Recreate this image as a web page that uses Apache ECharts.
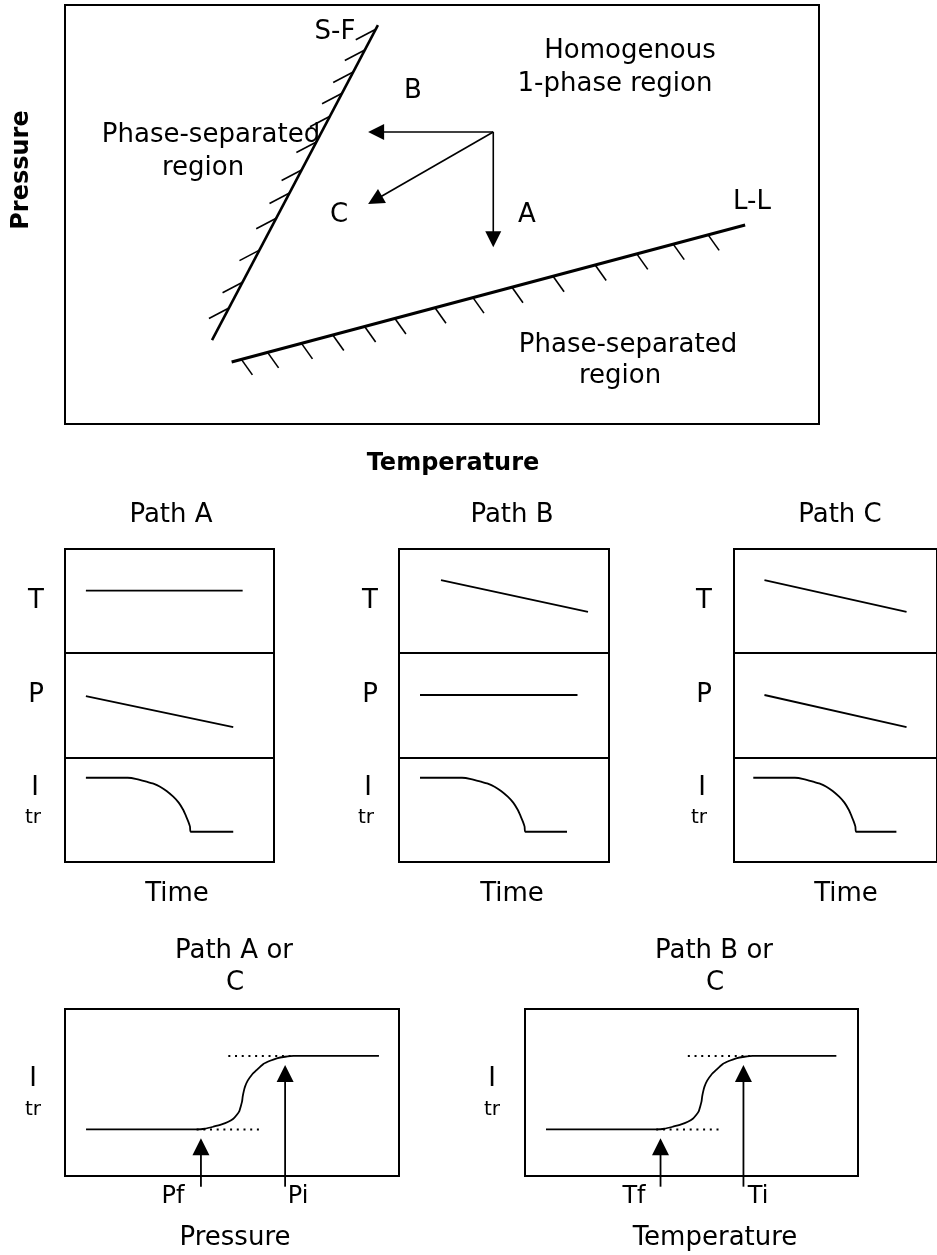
<!DOCTYPE html>
<html>
<head>
<meta charset="utf-8">
<title>Phase diagram and transmitted intensity paths</title>
<script src="https://cdn.jsdelivr.net/npm/echarts@6/dist/echarts.min.js"></script>
<style>
  html, body { margin: 0; padding: 0; background: #fff; }
  #chart { width: 937px; height: 1255px; }
</style>
</head>
<body>
<div id="chart"></div>
<script>
// ---- Phase diagram (temperature vs pressure, both 0-100 schematic units) ----
const sfBoundary = [[19.5, 20.0], [41.5, 95.2]];   // solid-fluid boundary
const llBoundary = [[22.1, 14.8], [90.2, 47.5]];   // liquid-liquid boundary
// hatch positions along each boundary (fraction from first to second end)
const sfHatch = [0.102, 0.184, 0.286, 0.387, 0.467, 0.540, 0.629, 0.711, 0.784, 0.851, 0.921, 0.987];
const llHatch = [0.019, 0.070, 0.136, 0.197, 0.259, 0.318, 0.396, 0.470, 0.546, 0.626, 0.708, 0.789, 0.860, 0.928];
// quench paths from the common start state
const pathStart = [56.8, 69.7];
const pathEndA = [56.8, 42.2];
const pathEndB = [40.2, 69.7];
const pathEndC = [40.2, 52.5];

// ---- Time traces for each path (time 0-100, value 0-100) ----
const tempA = [[10, 60], [85, 60]];
const presA = [[10, 59], [80.5, 29.5]];
const itrA = [[10, 81], [30, 81], [34.3, 79.8], [39.1, 77.2], [42.3, 75.3], [45.5, 72.4], [48.6, 68.3], [51.8, 62.8],
  [54.4, 57.1], [56.6, 50], [57.9, 44.2], [59, 38.8], [59.8, 34], [60.1, 29.1], [80.5, 29.1]];
const tempB = [[20, 70], [90, 39.5]];
const presB = [[10, 60], [85, 60]];
const itrB = [[10, 81], [30, 81], [34.3, 79.8], [39.1, 77.2], [42.3, 75.3], [45.5, 72.4], [48.6, 68.3], [51.8, 62.8],
  [54.4, 57.1], [56.6, 50], [57.9, 44.2], [59, 38.8], [59.8, 34], [60.1, 29.1], [80, 29.1]];
const tempC = [[15, 70], [85, 39.5]];
const presC = [[15, 60], [85, 29.5]];
const itrC = [[9.5, 81], [30, 81], [34.3, 79.8], [39.1, 77.2], [42.3, 75.3], [45.5, 72.4], [48.6, 68.3], [51.8, 62.8],
  [54.4, 57.1], [56.6, 50], [57.9, 44.2], [59, 38.8], [59.8, 34], [60.1, 29.1], [80, 29.1]];

// ---- Transmitted intensity vs pressure / temperature ----
const itrVsPressure = [[6.3, 27.9], [39.4, 27.9], [41.9, 28.3], [44.4, 29.5], [46.9, 30.9], [48.9, 32.5], [50.4, 34.3],
  [51.4, 36.5], [52.2, 38.9], [52.6, 41.5], [53.0, 44.5], [53.2, 47.5], [53.5, 50.5], [53.9, 53.5], [54.7, 57.1],
  [55.9, 60.5], [57.4, 63.5], [59.4, 67.1], [61.4, 69.0], [63.4, 70.5], [65.9, 71.4], [68.4, 71.9], [94, 71.9]];
const itrVsTemperature = [[6.3, 27.9], [39.4, 27.9], [41.9, 28.3], [44.4, 29.5], [46.9, 30.9], [48.9, 32.5], [50.4, 34.3],
  [51.4, 36.5], [52.2, 38.9], [52.6, 41.5], [53.0, 44.5], [53.2, 47.5], [53.5, 50.5], [53.9, 53.5], [54.7, 57.1],
  [55.9, 60.5], [57.4, 63.5], [59.4, 67.1], [61.4, 69.0], [63.4, 70.5], [65.9, 71.4], [68.4, 71.9], [93.5, 71.9]];
const upperGuide = [[48.9, 71.9], [68.4, 71.9]];
const lowerGuide = [[39.4, 27.9], [58.9, 27.9]];
const pressureMarks = { final: 40.7, initial: 65.9 };     // Pf, Pi
const temperatureMarks = { final: 40.7, initial: 65.6 };  // Tf, Ti
const markBase = -6.4;
const markTipFinal = 22.6;
const markTipInitial = 66.5;

// ---------------------------------------------------------------------------
const FONT = 'DejaVu Sans';
const grids = [
  { left: 65, top: 5, width: 754, height: 419 },      // 0 phase diagram
  { left: 65, top: 549, width: 209, height: 104 },    // 1 path A: T
  { left: 65, top: 653, width: 209, height: 105 },    // 2 path A: P
  { left: 65, top: 758, width: 209, height: 104 },    // 3 path A: Itr
  { left: 399, top: 549, width: 210, height: 104 },   // 4 path B: T
  { left: 399, top: 653, width: 210, height: 105 },   // 5
  { left: 399, top: 758, width: 210, height: 104 },   // 6
  { left: 734, top: 549, width: 210, height: 104 },   // 7 path C: T
  { left: 734, top: 653, width: 210, height: 105 },   // 8
  { left: 734, top: 758, width: 210, height: 104 },   // 9
  { left: 65, top: 1009, width: 334, height: 167 },   // 10 Itr vs pressure
  { left: 525, top: 1009, width: 333, height: 167 }   // 11 Itr vs temperature
].map(g => Object.assign({ show: true, borderColor: '#000', borderWidth: 2, backgroundColor: 'transparent' }, g));

const xAxes = grids.map((g, i) => ({ gridIndex: i, type: 'value', min: 0, max: 100, show: false }));
const yAxes = grids.map((g, i) => ({ gridIndex: i, type: 'value', min: 0, max: 100, show: false }));

function curve(idx, data, width, extra) {
  return Object.assign({
    type: 'line', xAxisIndex: idx, yAxisIndex: idx, data: data,
    symbol: 'none', showSymbol: false, silent: true,
    lineStyle: { color: '#000', width: width || 1.8 }
  }, extra || {});
}

function arrowRenderer(headLen, headW, lw) {
  return function (params, api) {
    const a = api.coord([api.value(0), api.value(1)]);
    const b = api.coord([api.value(2), api.value(3)]);
    const dx = b[0] - a[0], dy = b[1] - a[1];
    const len = Math.hypot(dx, dy);
    const ux = dx / len, uy = dy / len;
    const bx = b[0] - ux * headLen, by = b[1] - uy * headLen;
    const nx = -uy * headW / 2, ny = ux * headW / 2;
    return {
      type: 'group',
      children: [
        { type: 'line', shape: { x1: a[0], y1: a[1], x2: bx + ux, y2: by + uy },
          style: { stroke: '#000', lineWidth: lw } },
        { type: 'polygon', shape: { points: [[b[0], b[1]], [bx + nx, by + ny], [bx - nx, by - ny]] },
          style: { fill: '#000' } }
      ]
    };
  };
}

function arrows(idx, list, headLen, headW, lw) {
  return {
    type: 'custom', xAxisIndex: idx, yAxisIndex: idx, silent: true, clip: false,
    data: list, renderItem: arrowRenderer(headLen, headW, lw)
  };
}

function hatchRenderer(boundary, off) {
  return function (params, api) {
    const t = api.value(0);
    const p0 = api.coord(boundary[0]);
    const p1 = api.coord(boundary[1]);
    const x = p0[0] + (p1[0] - p0[0]) * t;
    const y = p0[1] + (p1[1] - p0[1]) * t;
    return { type: 'line', shape: { x1: x, y1: y, x2: x + off[0], y2: y + off[1] },
      style: { stroke: '#000', lineWidth: 1.6 } };
  };
}

function hatches(boundary, list, off) {
  return {
    type: 'custom', xAxisIndex: 0, yAxisIndex: 0, silent: true, clip: false,
    data: list.map(t => [t, t]), renderItem: hatchRenderer(boundary, off)
  };
}

const dotted = { color: '#000', width: 2, type: [2, 4.7] };
const smoothCurve = { smooth: 0.2 };

const series = [
  // phase diagram
  curve(0, sfBoundary, 2.6),
  curve(0, llBoundary, 3),
  hatches(sfBoundary, sfHatch, [-20, 10.5]),
  hatches(llBoundary, llHatch, [11, 15.5]),
  arrows(0, [pathStart.concat(pathEndA), pathStart.concat(pathEndB), pathStart.concat(pathEndC)], 16, 16, 1.6),
  // path A
  curve(1, tempA), curve(2, presA), curve(3, itrA, 1.8, smoothCurve),
  // path B
  curve(4, tempB), curve(5, presB), curve(6, itrB, 1.8, smoothCurve),
  // path C
  curve(7, tempC), curve(8, presC), curve(9, itrC, 1.8, smoothCurve),
  // intensity vs pressure
  curve(10, itrVsPressure, 1.8, smoothCurve),
  curve(10, upperGuide, 2, { lineStyle: dotted }),
  curve(10, lowerGuide, 2, { lineStyle: dotted }),
  arrows(10, [[pressureMarks.final, markBase, pressureMarks.final, markTipFinal],
              [pressureMarks.initial, markBase, pressureMarks.initial, markTipInitial]], 17, 17, 1.8),
  // intensity vs temperature
  curve(11, itrVsTemperature, 1.8, smoothCurve),
  curve(11, upperGuide, 2, { lineStyle: dotted }),
  curve(11, lowerGuide, 2, { lineStyle: dotted }),
  arrows(11, [[temperatureMarks.final, markBase, temperatureMarks.final, markTipFinal],
              [temperatureMarks.initial, markBase, temperatureMarks.initial, markTipInitial]], 17, 17, 1.8)
];

// ---- text annotations ----
function txt(text, x, y, size, opts) {
  const el = {
    type: 'text', x: x, y: y, silent: true,
    style: { text: text, fill: '#000', font: (opts && opts.bold ? 'bold ' : '') + size + 'px "' + FONT + '"',
      align: 'center', verticalAlign: 'middle' }
  };
  if (opts && opts.rotation) el.rotation = opts.rotation;
  return el;
}

const S = 26;
const texts = [
  // phase diagram
  txt('S-F', 335, 32, S),
  txt('Homogenous', 630, 51, S),
  txt('1-phase region', 615, 84, S),
  txt('B', 413, 91, S),
  txt('Phase-separated', 211, 135, S),
  txt('region', 203, 168, S),
  txt('C', 339, 215, S),
  txt('A', 527, 215, S),
  txt('L-L', 752, 202, S),
  txt('Phase-separated', 628, 345, S),
  txt('region', 620, 376, S),
  txt('Pressure', 22, 170, 24, { bold: true, rotation: Math.PI / 2 }),
  txt('Temperature', 453, 464, 24, { bold: true }),
  // path columns
  txt('Path A', 171, 515, S), txt('Path B', 512, 515, S), txt('Path C', 840, 515, S),
  txt('T', 36, 601, S), txt('T', 370, 601, S), txt('T', 704, 601, S),
  txt('P', 36, 695, S), txt('P', 370, 695, S), txt('P', 704, 695, S),
  txt('I', 35, 788, S), txt('I', 368, 788, S), txt('I', 702, 788, S),
  txt('tr', 33, 818, 20), txt('tr', 366, 818, 20), txt('tr', 699, 818, 20),
  txt('Time', 177, 894, S), txt('Time', 512, 894, S), txt('Time', 846, 894, S),
  // intensity panels
  txt('Path A or', 234, 951, S), txt('C', 235, 983, S),
  txt('Path B or', 714, 951, S), txt('C', 715, 983, S),
  txt('I', 33, 1079, S), txt('tr', 33, 1110, 20),
  txt('I', 492, 1079, S), txt('tr', 492, 1110, 20),
  txt('Pf', 173, 1197, 24), txt('Pi', 298, 1197, 24),
  txt('Tf', 634, 1197, 24), txt('Ti', 758, 1197, 24),
  txt('Pressure', 235, 1238, S), txt('Temperature', 715, 1238, S)
];

const chart = echarts.init(document.getElementById('chart'), null, { renderer: 'canvas' });
chart.setOption({
  animation: false,
  backgroundColor: '#fff',
  grid: grids,
  xAxis: xAxes,
  yAxis: yAxes,
  series: series,
  graphic: { elements: texts }
});
</script>
</body>
</html>
